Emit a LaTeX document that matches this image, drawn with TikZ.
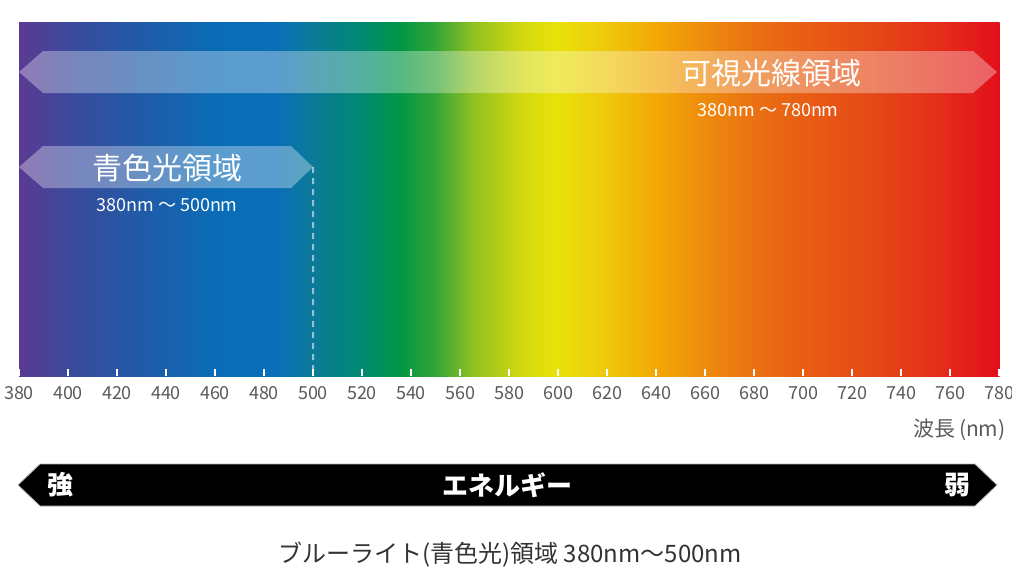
\documentclass[tikz,border=0pt]{standalone}
\usepackage{fontspec}
\setmainfont{Noto Sans CJK JP}
\definecolor{s380}{HTML}{5A3A92}
\definecolor{s400}{HTML}{3C4A9C}
\definecolor{s430}{HTML}{1F5BA8}
\definecolor{s460}{HTML}{0A6CB6}
\definecolor{s485}{HTML}{0A6FB8}
\definecolor{s500}{HTML}{0C7A98}
\definecolor{s520}{HTML}{008A70}
\definecolor{s535}{HTML}{009646}
\definecolor{s550}{HTML}{35A537}
\definecolor{s565}{HTML}{8FC021}
\definecolor{s585}{HTML}{D2D90F}
\definecolor{s600}{HTML}{E9E20A}
\definecolor{s620}{HTML}{EFC70C}
\definecolor{s640}{HTML}{F2A805}
\definecolor{s660}{HTML}{EE8B0E}
\definecolor{s680}{HTML}{EA7012}
\definecolor{s700}{HTML}{E85E14}
\definecolor{s730}{HTML}{E54717}
\definecolor{s760}{HTML}{E4281A}
\definecolor{s780}{HTML}{E30F1B}
\definecolor{axisgray}{HTML}{5A5A5A}
\definecolor{captiongray}{HTML}{333333}
\begin{document}
\begin{tikzpicture}[x=1pt,y=-1pt]
            \useasboundingbox(0,0)rectangle(1012,584);
            % spectrum
            \foreach \la/\lb in {380/400,400/430,430/460,460/485,485/500,500/520,520/535,535/550,550/565,565/585,585/600,600/620,620/640,640/660,660/680,680/700,700/730,730/760,760/780}
                \shade[left color=s\la,right color=s\lb]({19+2.45*(\la-380)},22)rectangle({19.6+2.45*(\lb-380)},376);
            \foreach \w in {380,400,...,780}{
                \coordinate(t\w)at({19+2.45*(\w-380)},376);
                \draw[white,line width=1.5pt](t\w)--+(0,-7);
                \node[text=axisgray,font=\fontsize{18}{21}\selectfont](l\w)at({19+2.45*(\w-380)},393){\w};
            }
            % visible band
            \coordinate(A0)at(19,72);
            \coordinate(A1)at(43,51);
            \coordinate(A2)at(973,51);
            \coordinate(A3)at(997,72);
            \coordinate(A4)at(973,93);
            \coordinate(A5)at(43,93);
            \fill[white,opacity=0.33](A0)--(A1)--(A2)--(A3)--(A4)--(A5)--cycle;
            % blue light band
            \coordinate(B0)at(19,167);
            \coordinate(B1)at(43,146);
            \coordinate(B2)at(291,146);
            \coordinate(B3)at(313,167);
            \coordinate(B4)at(291,188);
            \coordinate(B5)at(43,188);
            \fill[white,opacity=0.33](B0)--(B1)--(B2)--(B3)--(B4)--(B5)--cycle;
            \path(t500)--+(0,-6)coordinate(D0);
            \draw[white,opacity=0.55,line width=2pt,dash pattern=on 6pt off 5pt](B3)--(D0);
            \node[white,font=\fontsize{30}{34}\selectfont](vis)at(771,73){可視光線領域};
            \node[white,font=\fontsize{18}{21}\selectfont](visr)at(768,110){380nm ～ 780nm};
            \node[white,font=\fontsize{30}{34}\selectfont](blue)at(167,168){青色光領域};
            \node[white,font=\fontsize{18}{21}\selectfont](bluer)at(167,205){380nm ～ 500nm};
            \node[anchor=east,text=axisgray,font=\fontsize{21}{25}\selectfont](wl)at(1009,430){波長\,(nm)};
            % energy arrow
            \coordinate(C0)at(18,485);
            \coordinate(C1)at(40,464);
            \coordinate(C2)at(975,464);
            \coordinate(C3)at(997,485);
            \coordinate(C4)at(975,506);
            \coordinate(C5)at(40,506);
            \filldraw[fill=black,draw=gray!60,line width=0.8pt](C0)--(C1)--(C2)--(C3)--(C4)--(C5)--cycle;
            \node[white,font=\fontsize{26}{30}\selectfont\bfseries](strong)at(60,485){強};
            \node[white,font=\fontsize{26}{30}\selectfont\bfseries](energy)at(507,485){エネルギー};
            \node[white,font=\fontsize{26}{30}\selectfont\bfseries](weak)at(957,485){弱};
            \node[text=captiongray,font=\fontsize{24}{28}\selectfont](caption)at(510,555){ブルーライト(青色光)領域 380nm～500nm};
        \end{tikzpicture}
\end{document}
